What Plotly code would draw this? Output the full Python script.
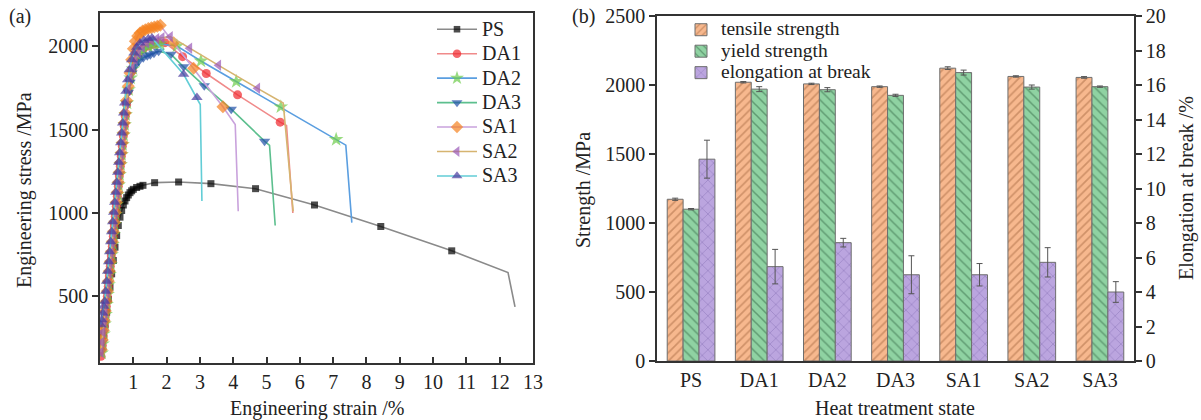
import plotly.graph_objects as go

W, H = 1201, 420

# ---------------- (a) stress-strain data ----------------
ps_strain = [0.05, 0.1, 0.15, 0.2, 0.25, 0.3, 0.35, 0.4, 0.45, 0.5, 0.55, 0.6, 0.65, 0.7, 0.75, 0.8, 0.85, 0.9,
             0.95, 1.0, 1.1, 1.2, 1.29, 1.64, 2.36, 3.33, 4.67, 6.44, 8.43, 10.56, 12.25, 12.46]
ps_stress = [200, 265, 330, 405, 480, 555, 635, 715, 795, 865, 925, 975, 1015, 1048, 1072, 1092, 1108, 1122,
             1133, 1142, 1153, 1160, 1166, 1182, 1186, 1176, 1146, 1048, 919, 773, 643, 437]

da1_strain = [0.03, 0.07, 0.1, 0.13, 0.16, 0.19, 0.22, 0.25, 0.28, 0.31, 0.34, 0.37, 0.4, 0.43, 0.46, 0.49, 0.52,
              0.55, 0.58, 0.61, 0.64, 0.67, 0.7, 0.73, 0.76, 0.8, 0.85, 0.9, 0.97, 1.05, 1.15, 1.3, 1.45, 1.6, 1.75,
              1.95, 2.48, 3.19, 4.13, 5.41, 5.6, 5.79]
da1_stress = [140, 205, 262, 320, 382, 440, 500, 560, 622, 680, 742, 800, 860, 922, 980, 1040, 1100,
              1160, 1222, 1280, 1340, 1400, 1462, 1520, 1580, 1650, 1730, 1800, 1860, 1910, 1950, 1985, 2002, 2012, 2018,
              2022, 1938, 1837, 1709, 1545, 1525, 1000]

da2_strain = [0.05, 0.08, 0.11, 0.14, 0.17, 0.2, 0.23, 0.26, 0.29, 0.32, 0.35, 0.38, 0.41, 0.44, 0.47, 0.5, 0.53,
              0.56, 0.59, 0.62, 0.65, 0.68, 0.71, 0.74, 0.77, 0.81, 0.86, 0.92, 0.99, 1.07, 1.17, 1.3, 1.45, 1.62,
              1.81, 2.31, 3.03, 4.09, 5.43, 7.09, 7.38, 7.56]
da2_stress = [160, 215, 275, 335, 392, 452, 512, 570, 632, 690, 750, 812, 870, 930, 990, 1050, 1110,
              1168, 1230, 1290, 1350, 1410, 1468, 1530, 1590, 1660, 1740, 1810, 1865, 1915, 1952, 1980, 1998, 2008,
              2014, 2002, 1912, 1789, 1637, 1441, 1407, 942]

da3_strain = [0.04, 0.07, 0.1, 0.13, 0.16, 0.19, 0.22, 0.25, 0.28, 0.31, 0.34, 0.37, 0.4, 0.43, 0.46, 0.49, 0.52,
              0.55, 0.58, 0.61, 0.64, 0.67, 0.7, 0.73, 0.76, 0.8, 0.85, 0.9, 0.96, 1.04, 1.16, 1.3, 1.42, 1.51, 1.62,
              1.76, 2.13, 2.51, 3.13, 3.94, 4.94, 5.09, 5.26]
da3_stress = [170, 225, 285, 345, 400, 462, 520, 580, 640, 700, 760, 818, 878, 938, 996, 1055, 1115,
              1175, 1235, 1295, 1352, 1412, 1472, 1530, 1590, 1655, 1725, 1785, 1840, 1880, 1910, 1932, 1944, 1950, 1958,
              1970, 1952, 1877, 1763, 1623, 1431, 1405, 925]

sa1_strain = [0.04, 0.07, 0.1, 0.13, 0.16, 0.19, 0.22, 0.25, 0.28, 0.31, 0.34, 0.37, 0.4, 0.43, 0.46, 0.49, 0.52,
              0.55, 0.58, 0.61, 0.64, 0.67, 0.7, 0.73, 0.76, 0.8, 0.85, 0.9, 0.95, 1.0, 1.06, 1.13, 1.2, 1.28, 1.36,
              1.45, 1.54, 1.63, 1.72, 1.81, 2.21, 2.81, 3.69, 4.06, 4.15]
sa1_stress = [180, 238, 295, 352, 412, 470, 530, 590, 650, 708, 768, 828, 888, 945, 1005, 1065, 1125,
              1185, 1245, 1302, 1362, 1422, 1480, 1540, 1600, 1675, 1760, 1840, 1920, 1985, 2030, 2062, 2080, 2092, 2100,
              2107, 2112, 2116, 2120, 2126, 2022, 1868, 1637, 1531, 1010]

sa2_strain = [0.03, 0.06, 0.09, 0.12, 0.15, 0.18, 0.21, 0.24, 0.27, 0.3, 0.33, 0.36, 0.39, 0.42, 0.45, 0.48, 0.51,
              0.54, 0.57, 0.6, 0.63, 0.66, 0.69, 0.72, 0.75, 0.79, 0.84, 0.9, 0.97, 1.05, 1.15, 1.27, 1.4, 1.55, 1.7,
              1.86, 2.11, 2.69, 3.56, 4.73, 5.5, 5.8]
sa2_stress = [165, 225, 285, 345, 402, 462, 522, 580, 642, 700, 760, 820, 880, 938, 998, 1058, 1118,
              1176, 1236, 1296, 1355, 1415, 1475, 1535, 1595, 1662, 1742, 1812, 1872, 1920, 1962, 1995, 2020, 2035, 2045,
              2052, 2058, 1988, 1886, 1748, 1660, 1010]

sa3_strain = [0.02, 0.05, 0.08, 0.11, 0.14, 0.17, 0.2, 0.23, 0.26, 0.29, 0.32, 0.35, 0.38, 0.41, 0.44, 0.47, 0.5,
              0.53, 0.56, 0.59, 0.62, 0.65, 0.68, 0.71, 0.74, 0.78, 0.83, 0.88, 0.95, 1.02, 1.1, 1.2, 1.32, 1.45,
              1.56, 2.51, 2.91, 3.01, 3.06]
sa3_stress = [330, 360, 400, 440, 470, 530, 590, 650, 708, 768, 828, 888, 948, 1005, 1065, 1125, 1185,
              1245, 1305, 1362, 1422, 1480, 1540, 1600, 1660, 1730, 1800, 1860, 1920, 1960, 1995, 2020, 2036, 2045,
              2050, 1832, 1693, 1651, 1072]

curve_names = ["PS", "DA1", "DA2", "DA3", "SA1", "SA2", "SA3"]

# ---------------- (b) bar data ----------------
categories = ["PS", "DA1", "DA2", "DA3", "SA1", "SA2", "SA3"]
tensile = [1172, 2020, 2008, 1988, 2122, 2062, 2055]
tensile_err = [8, 5, 5, 5, 10, 5, 6]
yield_strength = [1100, 1970, 1966, 1925, 2090, 1985, 1988]
yield_err = [5, 18, 15, 8, 18, 15, 5]
elongation = [11.7, 5.47, 6.86, 5.0, 5.0, 5.72, 4.0]
elongation_err = [1.1, 1.0, 0.25, 1.1, 0.65, 0.85, 0.6]
bar_names = ["tensile strength", "yield strength", "elongation at break"]


def px(x):
    return x / W


def py(y):
    return 1 - y / H


FONT = "Liberation Serif"
AX = "#333333"
TXT = "#222222"

fig = go.Figure()

styles = [
    (ps_strain, ps_stress, "#8a8a8a", "#000000", "square", 7),
    (da1_strain, da1_stress, "#f08a8a", "#f0262c", "circle", 9),
    (da2_strain, da2_stress, "#5a9ee0", "#6ccc4a", "star", 11),
    (da3_strain, da3_stress, "#5cbf8e", "#2150a8", "triangle-down", 10),
    (sa1_strain, sa1_stress, "#c9a2dc", "#f5821f", "diamond", 10),
    (sa2_strain, sa2_stress, "#d6b470", "#9a58b8", "triangle-left", 10),
    (sa3_strain, sa3_stress, "#62cdd6", "#4a3a9e", "triangle-up", 10),
]
for name, (sx, sy, lc, mc, sym, ms) in zip(curve_names, styles):
    # last two points (end of necking and fracture) carry no marker
    sizes = [ms] * (len(sx) - 2) + [0, 0]
    fig.add_trace(go.Scatter(
        x=sx, y=sy, name=f'<span style="font-size:20px">{name}</span>', mode="lines+markers",
        line=dict(color=lc, width=1.6),
        marker=dict(color=mc, symbol=sym, size=sizes, line=dict(width=0)),
        xaxis="x", yaxis="y", legend="legend",
    ))

bar_line = dict(color="#6e6e6e", width=1)
bar_specs = [
    (tensile, tensile_err, "y3", "#f7b88e", "/", "#a86a42", 6, 0.28),
    (yield_strength, yield_err, "y3", "#8fd2a2", "\\", "#336644", 7, 0.22),
    (elongation, elongation_err, "y4", "#bba5df", "x", "#6f58a0", 8, 0.15),
]
for i, (name, (vals, errs, yax, col, shp, fg, sz, sol)) in enumerate(zip(bar_names, bar_specs)):
    fig.add_trace(go.Bar(
        x=categories, y=vals, name=f'<span style="font-size:19.5px">{name}</span>',
        xaxis="x2", yaxis=yax, offsetgroup=str(i + 1), legend="legend2",
        marker=dict(color=col, line=bar_line,
                    pattern=dict(shape=shp, fgcolor=fg, size=sz, solidity=sol, fillmode="overlay")),
        error_y=dict(type="data", array=errs, color="#555555", thickness=1, width=3),
    ))

tickfont = dict(family=FONT, size=20, color=TXT)
common = dict(showline=True, linecolor=AX, linewidth=1.5, mirror=True, showgrid=False,
              zeroline=False, tickfont=tickfont, tickcolor=AX, automargin=False)

fig.update_layout(
    width=W, height=H,
    margin=dict(l=0, r=0, t=0, b=0),
    paper_bgcolor="white", plot_bgcolor="white",
    barmode="group", bargap=0.3, bargroupgap=0.0,
    font=dict(family=FONT, size=20, color=TXT),
    xaxis=dict(domain=[px(100), px(533)], range=[0, 13], tickvals=list(range(1, 14)),
               ticks="inside", ticklen=6, tickwidth=1.5, anchor="y", **common),
    yaxis=dict(domain=[py(363), py(13)], range=[100, 2200], tickvals=[500, 1000, 1500, 2000],
               ticks="outside", ticklen=6, tickwidth=1.5, anchor="x", **common),
    xaxis2=dict(domain=[px(657), px(1134)], ticks="", anchor="y3", **common),
    yaxis3=dict(domain=[py(361), py(16)], range=[0, 2500], tickvals=[0, 500, 1000, 1500, 2000, 2500],
                ticks="outside", ticklen=6, tickwidth=1.5, anchor="x2", **common),
    yaxis4=dict(range=[0, 20], tickvals=list(range(0, 21, 2)), overlaying="y3", side="right",
                ticks="outside", ticklen=6, tickwidth=1.5, anchor="x2",
                showline=True, linecolor=AX, linewidth=1.5, showgrid=False, zeroline=False,
                tickfont=tickfont, tickcolor=AX, automargin=False),
    legend=dict(x=px(432), y=py(12), xanchor="left", yanchor="top", bgcolor="rgba(255,255,255,0)",
                font=dict(family=FONT, size=16.5, color=TXT), tracegroupgap=0, itemwidth=40),
    legend2=dict(x=px(681), y=py(14), xanchor="left", yanchor="top", bgcolor="rgba(255,255,255,0)",
                 font=dict(family=FONT, size=14.2, color=TXT), tracegroupgap=0, itemwidth=30),
    showlegend=True,
)

annots = [
    ("(a)", 20, 17, 0),
    ("(b)", 583, 17, 0),
    ("Engineering strain /%", 317, 408, 0),
    ("Engineering stress /MPa", 25, 190, -90),
    ("Heat treatment state", 895, 408, 0),
    ("Strength /MPa", 584, 190, -90),
    ("Elongation at break /%", 1187, 188, -90),
]
for text, x, y, ang in annots:
    fig.add_annotation(text=text, x=px(x), y=py(y), xref="paper", yref="paper",
                       showarrow=False, textangle=ang, xanchor="center", yanchor="middle",
                       font=dict(family=FONT, size=20, color=TXT))

fig.write_html("out.html")
